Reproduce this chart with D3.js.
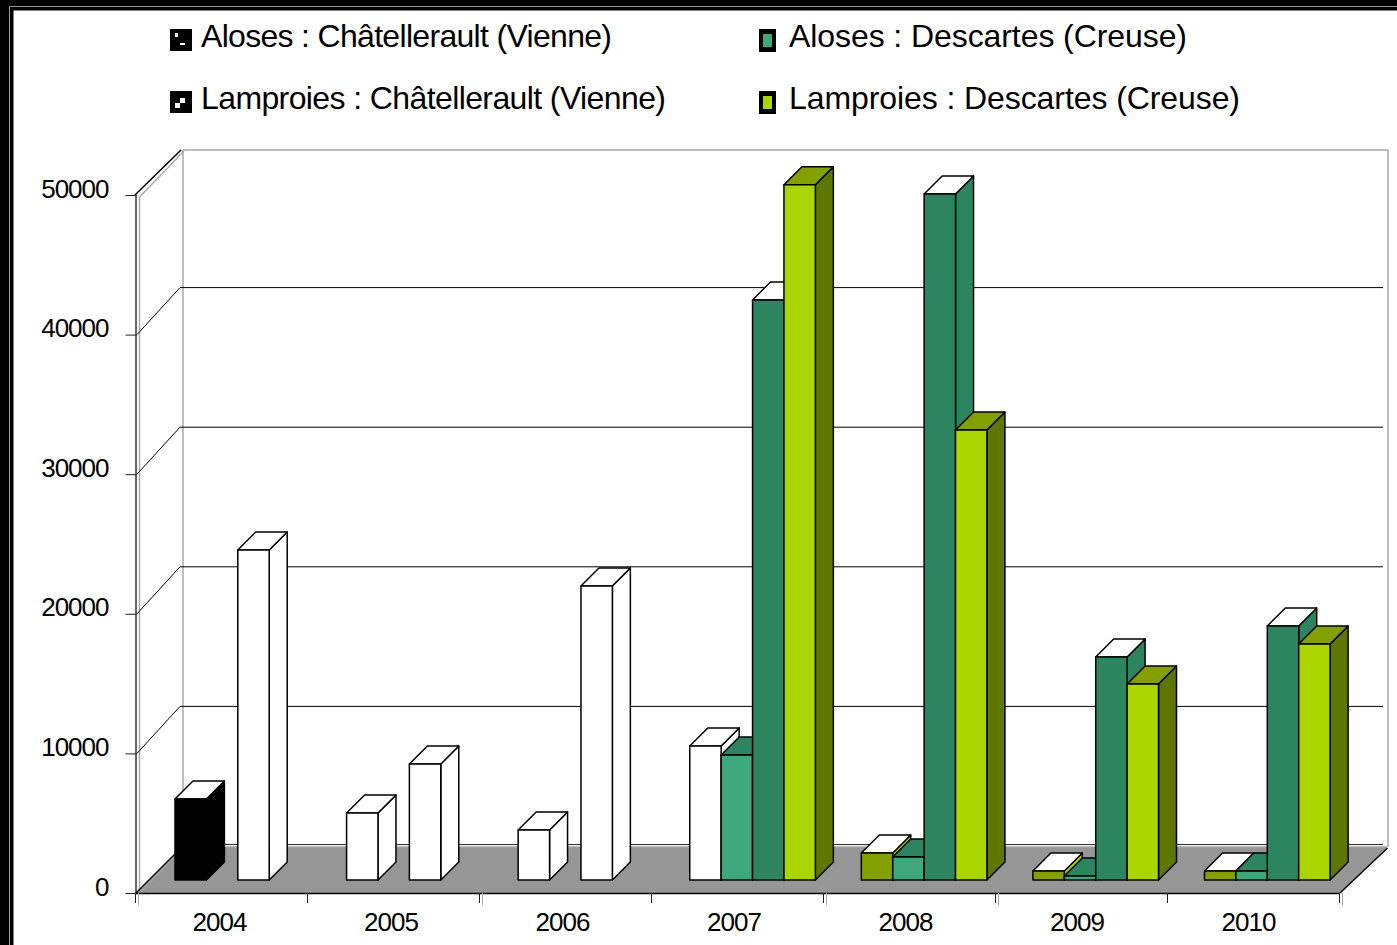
<!DOCTYPE html>
<html><head><meta charset="utf-8">
<script src="https://cdn.jsdelivr.net/npm/d3@7"></script>
<style>html,body{margin:0;padding:0;background:#fff}svg{display:block}text{font-family:"Liberation Sans",Arial,sans-serif;fill:#000}</style>
</head><body><svg id="c" width="1397" height="945"></svg>
<script>
const years = ["2004","2005","2006","2007","2008","2009","2010"];
const seriesNames = ["Aloses : Châtellerault (Vienne)","Aloses : Descartes (Creuse)","Lamproies : Châtellerault (Vienne)","Lamproies : Descartes (Creuse)"];
const slot1 = [5800,4800,3580,9600,1930,640,640];
const slot2 = [0,0,0,8950,1650,290,640];
const slot3 = [23640,8310,21060,41550,49140,15970,18200];
const slot4 = [0,0,0,49800,32230,14040,16900];
const yTicks = [0,10000,20000,30000,40000,50000];

// colours: [front, top, side]
const pal = {
  white:["#fff","#fff","#fff"], black:["#000","#fff","#000"],
  olive:["#83a000","#fff","#aad500"], light:["#3da87b","#2c8560","#2c8560"],
  dark:["#2c8560","#fff","#2c8560"], lime:["#aad500","#83a000","#5f7700"]
};
const slotStyle = [
  ["black","white","white","white","olive","olive","olive"],
  ["light","light","light","light","light","light","light"],
  ["white","white","white","dark","dark","dark","dark"],
  ["lime","lime","lime","lime","lime","lime","lime"]
];
const slots = [slot1,slot2,slot3,slot4];

const svg = d3.select("#c");
const X0=136,X1=1340,YF=893,DX=47,DY=47,BD=18;
const yFront = d3.scaleLinear().domain([0,50000]).range([YF,195]);
const yBar = d3.scaleLinear().domain([0,50000]).range([880,182]);
const xLabel = d3.scalePoint().domain(years).range([219,1248]);
const xBar = d3.scalePoint().domain(years).range([175,1204.5]);
const slotW = 31.4;

// frame
svg.append("rect").attr("width",1397).attr("height",10.5).attr("fill","#000");
svg.append("rect").attr("width",13.5).attr("height",945).attr("fill","#000");
svg.append("line").attr("x1",9.5).attr("x2",1397).attr("y1",6.5).attr("y2",6.5).attr("stroke","#999");
svg.append("line").attr("x1",9.5).attr("x2",9.5).attr("y1",6.5).attr("y2",945).attr("stroke","#999");

// walls
const g = svg.append("g");
const line=(a,b,c,d,col,w=1)=>g.append("line").attr("x1",a).attr("y1",b).attr("x2",c).attr("y2",d).attr("stroke",col).attr("stroke-width",w);
g.append("path").attr("d",`M${X0+47},150H1388V847`).attr("fill","none").attr("stroke","#aaa").attr("stroke-width",1.5);
line(X0+47,150,X0+47,846,"#aaa",1.5);
line(139.5,197,139.5,893,"#aaa",1.5);
line(136,195,136,893,"#333",1.5);
line(139.5,197,184,151,"#aaa",1.5);
line(135,195,181,150,"#000",1.5);
// floor
g.append("path").attr("d",`M${X0+1},${YF}L${X0+DX},847H1387.5L${X1},${YF}Z`).attr("fill","#969696");
line(X0+43,844.5,1383,844.5,"#333",1.2);
line(X0+47,846.5,1387,846.5,"#bbb",1.5);
line(X1,YF,1387.5,848,"#000",1.5);
line(X0,YF,X0+40,853,"#000",1.5);
line(X0+4,YF,X0+44,851,"#aaa",1);
// gridlines
yTicks.slice(1,5).forEach(v=>{
  const p=d3.path();p.moveTo(X0+1,yFront(v));p.lineTo(X0+44,yFront(v)-DY);p.lineTo(1383,yFront(v)-DY);
  g.append("path").attr("d",p.toString()).attr("fill","none").attr("stroke","#000").attr("stroke-width",1);
});

// bars
const bars=svg.append("g").attr("stroke","#000").attr("stroke-width",1.5).attr("stroke-linejoin","round");
years.forEach((yr,i)=>{
  slots.forEach((vals,s)=>{
    const v=vals[i]; if(!v) return;
    const c=pal[slotStyle[s][i]];
    const x=xBar(yr)+s*slotW, t=yBar(v), b=yBar(0), w=slotW;
    const G=bars.append("g");
    G.append("path").attr("d",`M${x+w},${t}l${BD},${-BD}V${b-BD}L${x+w},${b}Z`).attr("fill",c[2]);
    G.append("path").attr("d",`M${x},${t}l${BD},${-BD}h${w}l${-BD},${BD}Z`).attr("fill",c[1]);
    G.append("rect").attr("x",x).attr("y",t).attr("width",w).attr("height",b-t).attr("fill",c[0]);
  });
});

// axes
const axY=d3.axisLeft(yFront).tickValues(yTicks).tickSize(11).tickPadding(0).tickFormat(d3.format("d"));
const gy=svg.append("g").attr("transform",`translate(${X0+.5},0)`).call(axY);
gy.select(".domain").remove();
gy.selectAll("line").attr("stroke","#222");
gy.selectAll("text").attr("x",-28).attr("dy",0).attr("y",2).style("font-size","26px").attr("letter-spacing","-1");
const axX=d3.axisBottom(xLabel).tickSize(0).tickPadding(0);
const gx=svg.append("g").attr("transform",`translate(0,${YF})`).call(axX);
gx.select(".domain").attr("stroke","#000").attr("stroke-width",1.5).attr("d",`M${X0},0.5H${X1}`);
gx.selectAll("text").attr("y",38).attr("dy",0).style("font-size","26px").attr("letter-spacing","-1");
d3.range(8).forEach(i=>{
  const x=Math.round(X0-1+i*172)+.5;
  gx.append("line").attr("x1",x).attr("x2",x).attr("y1",0).attr("y2",10).attr("stroke","#222");
  if([0,2,4,5,7].includes(i)) gx.append("line").attr("x1",x+3).attr("x2",x+3).attr("y1",0).attr("y2",12).attr("stroke","#aaa");
});

// legend
const lg=svg.append("g");
const lx=[170,759], ly=[29,91], lw=[411,398,465,451];
seriesNames.forEach((n,i)=>{
  const cx=lx[i%2], cy=ly[i<2?0:1];
  const col=i%2;
  if(!col){
    lg.append("rect").attr("x",cx).attr("y",cy).attr("width",22).attr("height",22).attr("fill","#000");
    if(i===0){
      lg.append("rect").attr("x",cx+5).attr("y",cy+4).attr("width",3).attr("height",4).attr("fill","#fff");
      lg.append("rect").attr("x",cx+10).attr("y",cy+14).attr("width",5).attr("height",2).attr("fill","#fff");
    } else {
      lg.append("rect").attr("x",cx+5).attr("y",cy+12).attr("width",5).attr("height",5).attr("fill","#fff");
      lg.append("rect").attr("x",cx+10).attr("y",cy+7).attr("width",5).attr("height",5).attr("fill","#fff");
    }
  } else {
    lg.append("rect").attr("x",cx).attr("y",cy).attr("width",17).attr("height",23).attr("fill","#000");
    lg.append("rect").attr("x",cx+4).attr("y",cy+5).attr("width",9).attr("height",13).attr("fill",i===1?"#3da87b":"#aad500");
  }
  lg.append("text").attr("x",cx+(col?30:31)).attr("y",cy+18).style("font-size","32px")
    .attr("textLength",lw[i]).attr("lengthAdjust","spacing").text(n);
});
</script></body></html>
